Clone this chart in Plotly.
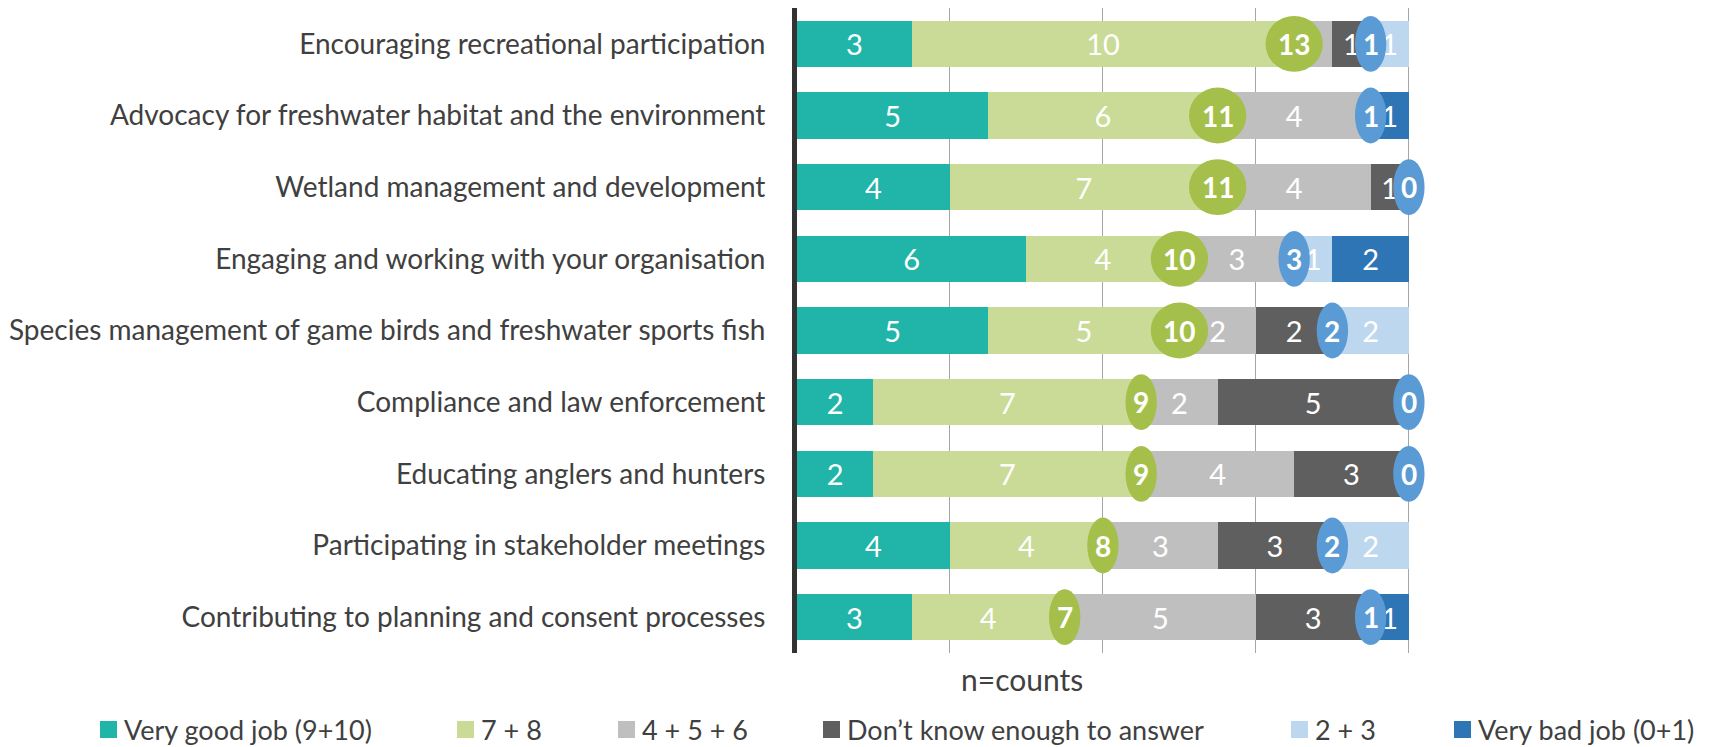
import plotly.graph_objects as go

# survey rows, top to bottom
categories = [
    "Encouraging recreational participation",
    "Advocacy for freshwater habitat and the environment",
    "Wetland management and development",
    "Engaging and working with your organisation",
    "Species management of game birds and freshwater sports fish",
    "Compliance and law enforcement",
    "Educating anglers and hunters",
    "Participating in stakeholder meetings",
    "Contributing to planning and consent processes",
]

series_names = [
    "Very good job (9+10)",
    "7 + 8",
    "4 + 5 + 6",
    "Don\u2019t know enough to answer",
    "2 + 3",
    "Very bad job (0+1)",
]

very_good = [3, 5, 4, 6, 5, 2, 2, 4, 3]
seven_eight = [10, 6, 7, 4, 5, 7, 7, 4, 4]
four_to_six = [1, 4, 4, 3, 2, 2, 4, 3, 5]
dont_know = [1, 0, 1, 0, 2, 5, 3, 3, 3]
two_three = [1, 0, 0, 1, 2, 0, 0, 2, 0]
very_bad = [0, 1, 0, 2, 0, 0, 0, 0, 1]

series_values = [very_good, seven_eight, four_to_six, dont_know, two_three, very_bad]
colors = ["#21B5A9", "#C9DB96", "#BFBFBF", "#5F5F5F", "#BDD7EE", "#2E75B6"]

FONT = "Lato"
TXT = "#404040"
W, H = 1726, 747
OFF = 8  # the page body margin pushes the figure down/right
ML, MR, MT, MB = 789, 306, 0, 102
PW = W - ML - MR
PH = H - MT - MB


def px_x(px):
    return (px - OFF - ML) / PW


def px_y(py):
    return (H - MB - (py - OFF)) / PH


fig = go.Figure()

for name, vals, col in zip(series_names, series_values, colors):
    fig.add_trace(go.Bar(
        y=categories,
        x=vals,
        name=name,
        orientation="h",
        marker=dict(color=col, line=dict(width=0)),
        text=[str(v) if v else "" for v in vals],
        textposition="inside",
        insidetextanchor="middle",
        textangle=0,
        constraintext="none",
        textfont=dict(family=FONT, size=29, color="white"),
        showlegend=False,
        hoverinfo="x+name",
    ))

# totals: good (9-10 + 7-8) and bad (2-3 + 0-1)
good_totals = [a + b for a, b in zip(very_good, seven_eight)]
bad_totals = [a + b for a, b in zip(two_three, very_bad)]
n_total = [sum(s[i] for s in series_values) for i in range(len(categories))]

shapes = []
annotations = []
for i, cat in enumerate(categories):
    for val, xpos, col in [
        (good_totals[i], good_totals[i], "#A5C04A"),
        (bad_totals[i], n_total[i] - bad_totals[i], "#5B9BD5"),
    ]:
        hw = 0.75 if val >= 10 else 0.41
        shapes.append(dict(
            type="circle", xref="x", yref="y",
            x0=xpos - hw, x1=xpos + hw, y0=i - 0.39, y1=i + 0.39,
            fillcolor=col, line=dict(width=0), layer="above",
        ))
        annotations.append(dict(
            x=xpos, y=cat, xref="x", yref="y", text="<b>%d</b>" % val,
            showarrow=False, font=dict(family=FONT, size=28, color="white"),
        ))

# axis title
annotations.append(dict(
    x=px_x(1022), y=px_y(679), xref="paper", yref="paper", text="n=counts",
    showarrow=False, font=dict(family=FONT, size=30, color=TXT),
    xanchor="center", yanchor="middle",
))

# hand-placed legend to follow the original spacing
legend_left = [100, 457, 618, 823, 1291, 1454]
for name, col, lx in zip(series_names, colors, legend_left):
    shapes.append(dict(
        type="rect", xref="paper", yref="paper",
        x0=px_x(lx), x1=px_x(lx + 17), y0=px_y(738), y1=px_y(721),
        fillcolor=col, line=dict(width=0),
    ))
    annotations.append(dict(
        x=px_x(lx + 22), y=px_y(729), xref="paper", yref="paper", text=name,
        showarrow=False, xanchor="left", yanchor="middle",
        font=dict(family=FONT, size=27, color=TXT),
    ))

fig.update_layout(
    barmode="stack",
    bargap=0.35,
    width=W, height=H,
    margin=dict(l=ML, r=MR, t=MT, b=MB),
    plot_bgcolor="white",
    paper_bgcolor="white",
    font=dict(family=FONT, size=28, color=TXT),
    shapes=shapes,
    annotations=annotations,
    xaxis=dict(
        range=[0, 16.5], dtick=4, showgrid=True, gridcolor="#A6A6A6", gridwidth=1,
        showticklabels=False, zeroline=False, showline=False,
    ),
    yaxis=dict(
        range=[8.5, -0.5], showline=True, linecolor="#333333", linewidth=5,
        ticks="outside", ticklen=21, tickcolor="rgba(0,0,0,0)",
        tickfont=dict(family=FONT, size=28, color=TXT), showgrid=False,
    ),
)

fig.write_html("out.html")
